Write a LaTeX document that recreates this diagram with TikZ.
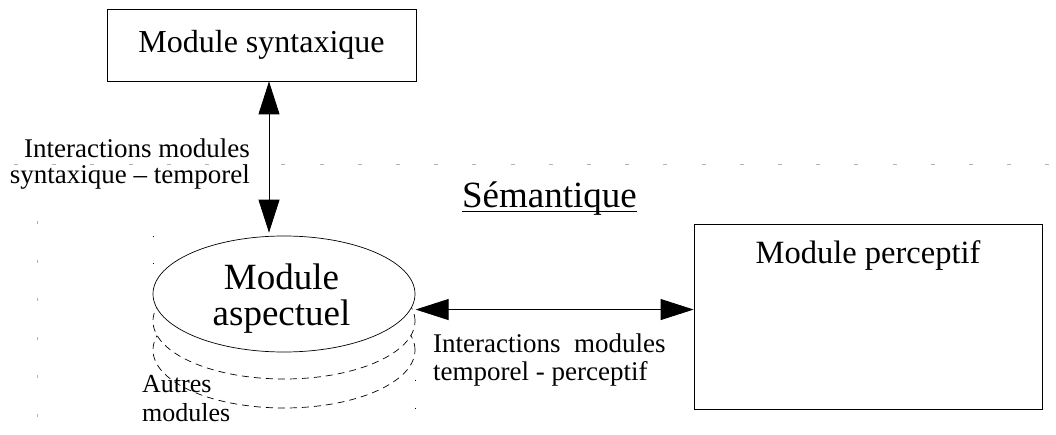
\documentclass[tikz,border=0pt]{standalone}
\usepackage{fontspec}
\setmainfont{Liberation Serif}
\usetikzlibrary{shapes.geometric,arrows.meta}

\begin{document}
\begin{tikzpicture}[x=1pt,y=1pt,
  module/.style={draw, line width=0.8pt, inner sep=0pt},
  pile/.style={ellipse, draw, line width=0.7pt, fill=white, minimum width=262pt, minimum height=116pt, inner sep=0pt},
  link/.style={{Triangle[length=33pt,width=21pt]}-{Triangle[length=33pt,width=21pt]}, line width=0.8pt},
  guide/.style={gray!60, line width=1pt},
  small/.style={inner sep=0pt, align=left, anchor=north west}]
\useasboundingbox (0,0) rectangle (1056,-435);
\draw [guide, dash pattern=on 4pt off 34.2pt] (14,-165) -- (1056,-165);
\draw [guide, dash pattern=on 3pt off 35.4pt] (37,-221.5) -- (37,-420);
\node [module, minimum width=309pt, minimum height=72pt, font=\fontsize{32}{36}\selectfont] (syn) at (261.5,-45) {Module syntaxique};
\node [module, minimum width=348pt, minimum height=185pt, label={[anchor=north, inner sep=0pt, yshift=-17pt, font=\fontsize{32.5}{36}\selectfont]north:Module perceptif}] (perc) at (868,-316.5) {};
\node [pile, dash pattern=on 7pt off 5pt] (other2) at (284,-350) {};
\node [pile, dash pattern=on 7pt off 5pt] (other1) at (284,-321) {};
\node [pile, label={[align=center, inner sep=0pt, yshift=-4.5pt, xshift=-2.5pt, font=\fontsize{37}{36}\selectfont]center:{Module\\aspectuel}}] (asp) at (284,-294) {};
\draw [line width=1pt, dash pattern=on 1pt off 26pt] (153,-236.5) -- (153,-290);
\draw [line width=1pt, dash pattern=on 1pt off 27pt] (415,-379.5) -- (415,-410);
\node [inner sep=0pt, anchor=base, font=\fontsize{37}{40}\selectfont] (sem) at (549.5,-208) {Sémantique};
\draw [line width=1.2pt] ([yshift=-3.5pt]sem.base west) -- ([yshift=-3.5pt]sem.base east);
\node [small, align=right, anchor=north east, font=\fontsize{27}{26}\selectfont] (synlab) at (250,-138.6) {Interactions modules\\syntaxique – temporel};
\node [small, font=\fontsize{27}{28}\selectfont] (perclab) at (433,-333.6) {Interactions~~modules\\temporel - perceptif};
\node [small, font=\fontsize{26}{29}\selectfont] (otherlab) at (142,-375.5) {Autres\\modules};
\coordinate (top) at ([xshift=7.5pt]syn.south);
\draw [link] (top) -- ([yshift=3pt]top |- asp.north);
\draw [link] ([xshift=5pt]asp.-7.5) -- (perc.west |- asp.-7.5);
\end{tikzpicture}
\end{document}
